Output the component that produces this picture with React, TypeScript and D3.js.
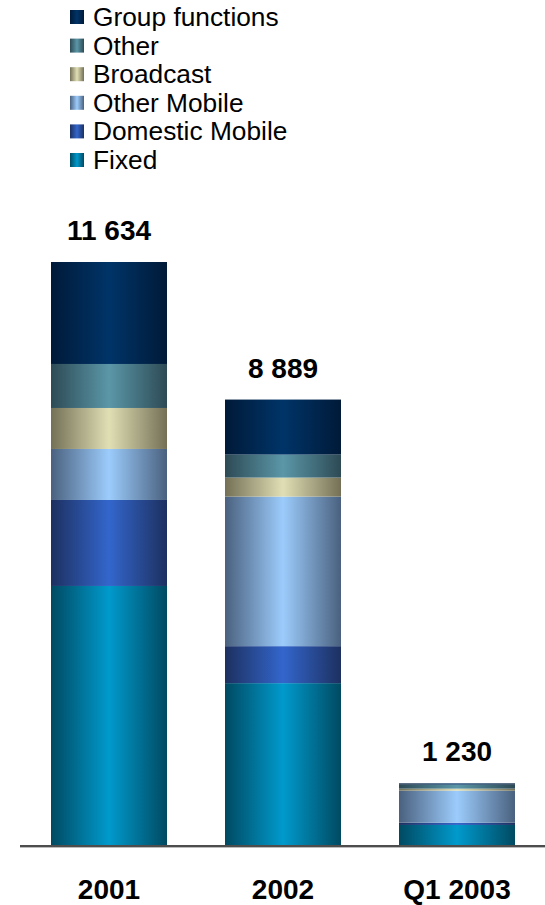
import React from "react";
import * as d3 from "d3";

const categories = ["2001", "2002", "Q1 2003"];
const totals = [11634, 8889, 1230];
const totalLabels = ["11 634", "8 889", "1 230"];
const seriesNames = ["Fixed", "Domestic Mobile", "Other Mobile", "Broadcast", "Other", "Group functions"];
const fixed = [5169, 3230, 400];
const domesticMobile = [1716, 738, 45];
const otherMobile = [1018, 2985, 640];
const broadcast = [818, 379, 40];
const other = [878, 459, 80];
const groupFunctions = [2035, 1098, 25];
const legendOrder = ["Group functions", "Other", "Broadcast", "Other Mobile", "Domestic Mobile", "Fixed"];

const colors: Record<string, [string, string]> = {
  "Fixed": ["#004a62", "#009acc"],
  "Domestic Mobile": ["#1d3060", "#3366cc"],
  "Other Mobile": ["#4a617f", "#9cccfc"],
  "Broadcast": ["#737056", "#e0dfb4"],
  "Other": ["#2d4a55", "#5b97a8"],
  "Group functions": ["#001a38", "#003468"],
};

const W = 545;
const H = 905;
const FONT = "'Liberation Sans', Arial, Helvetica, sans-serif";

export default function App() {
  const seriesValues = [fixed, domesticMobile, otherMobile, broadcast, other, groupFunctions];
  const table = categories.map((c, i) => {
    const row: Record<string, any> = { cat: c };
    seriesNames.forEach((s, j) => (row[s] = seriesValues[j][i]));
    return row;
  });
  const stack = d3.stack<any>().keys(seriesNames)(table);

  const x = d3.scaleBand().domain(categories).range([-36, 602]).paddingInner(1 / 3).paddingOuter(0.5);
  const y = d3.scaleLinear().domain([0, 11634]).range([845, 262]);
  const bw = x.bandwidth();

  const gid = (s: string) => "g_" + s.replace(/\s+/g, "_");

  return (
    <svg width={W} height={H} style={{ position: "absolute", left: 0, top: 0 }}>
      <defs>
        {seriesNames.map((s) => (
          <linearGradient key={s} id={gid(s)} x1="0" x2="1" y1="0" y2="0">
            <stop offset="0" stopColor={colors[s][0]} />
            <stop offset="0.5" stopColor={colors[s][1]} />
            <stop offset="1" stopColor={colors[s][0]} />
          </linearGradient>
        ))}
      </defs>
      <rect width={W} height={H} fill="#fff" />
      {legendOrder.map((s, i) => {
        const base = 26 + i * 28.6;
        return (
          <g key={s}>
            <rect x={70} y={base - 16} width={14} height={14} fill={`url(#${gid(s)})`} />
            <text x={93} y={base} fontFamily={FONT} fontSize={26.3} fill="#000">
              {s}
            </text>
          </g>
        );
      })}
      {stack.map((layer) => (
        <g key={layer.key}>
          {layer.map((d, i) => (
            <rect
              key={i}
              x={x(categories[i])}
              width={bw}
              y={y(d[1])}
              height={Math.max(0, y(d[0]) - y(d[1]))}
              fill={`url(#${gid(layer.key)})`}
            />
          ))}
        </g>
      ))}
      <line x1={20} x2={545} y1={846} y2={846} stroke="#4d4d4d" strokeWidth={2} />
      <line x1={20} x2={545} y1={847.5} y2={847.5} stroke="#bbb" strokeWidth={1} />
      {categories.map((c, i) => (
        <g key={c}>
          <text
            x={(x(c) as number) + bw / 2}
            y={y(totals[i]) - 22}
            textAnchor="middle"
            fontFamily={FONT}
            fontWeight="bold"
            fontSize={28}
            fill="#000"
          >
            {totalLabels[i]}
          </text>
          <text
            x={(x(c) as number) + bw / 2}
            y={899}
            textAnchor="middle"
            fontFamily={FONT}
            fontWeight="bold"
            fontSize={28}
            fill="#000"
          >
            {c}
          </text>
        </g>
      ))}
    </svg>
  );
}
